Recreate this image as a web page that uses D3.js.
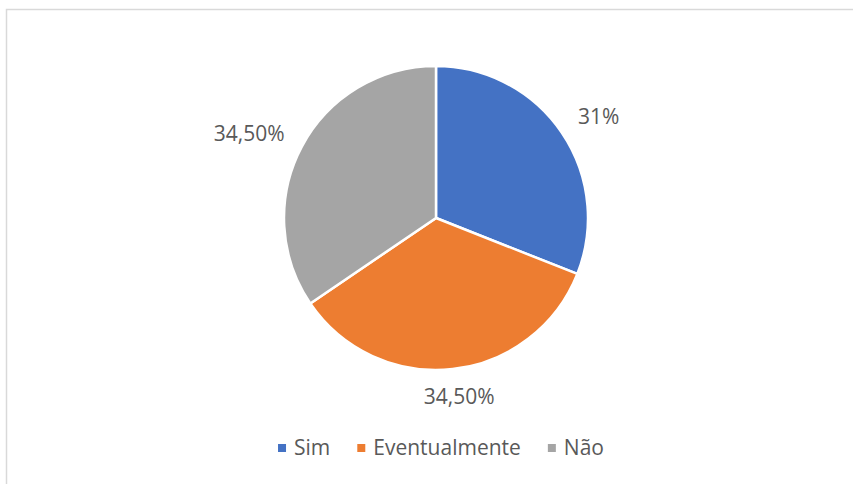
<!DOCTYPE html>
<html>
<head>
<meta charset="utf-8">
<script src="https://cdnjs.cloudflare.com/ajax/libs/d3/7.8.5/d3.min.js"></script>
<style>
  body { margin: 0; background: #fff; }
  text { font-family: "Open Sans", "Noto Sans", sans-serif; fill: #595959; }
</style>
</head>
<body>
<div id="chart"></div>
<script>
var categories = ["Sim", "Eventualmente", "Não"];
var values = [31, 34.5, 34.5];
var labels = ["31%", "34,50%", "34,50%"];
var colors = ["#4472C4", "#ED7D31", "#A5A5A5"];

var width = 853, height = 484;
var cx = 436, cy = 218, radius = 152;

var svg = d3.select("#chart").append("svg")
    .attr("width", width)
    .attr("height", height);

// chart frame
svg.append("rect")
    .attr("x", 6.5)
    .attr("y", 9.5)
    .attr("width", width + 10)
    .attr("height", height + 10)
    .style("fill", "none")
    .style("stroke", "#d9d9d9")
    .style("stroke-width", 1.5);

var color = d3.scaleOrdinal().domain(categories).range(colors);

var data = categories.map(function(c, i) {
    return {cat: c, value: values[i], label: labels[i]};
});

var pie = d3.pie()
    .sort(null)
    .value(function(d) { return d.value; });

var arc = d3.arc()
    .innerRadius(0)
    .outerRadius(radius);

var g = svg.append("g")
    .attr("transform", "translate(" + cx + "," + cy + ")");

var arcs = pie(data);

g.selectAll(".slice")
    .data(arcs)
    .enter().append("path")
    .attr("class", "slice")
    .attr("d", arc)
    .style("fill", function(d) { return color(d.data.cat); })
    .style("stroke", "#fff")
    .style("stroke-width", 2.5);

// outside-end labels
var labelR = radius + 18;
g.selectAll(".lbl")
    .data(arcs)
    .enter().append("text")
    .attr("class", "lbl")
    .style("font-size", "21px")
    .attr("text-anchor", "middle")
    .attr("dy", "0.35em")
    .text(function(d) { return d.data.label; })
    .each(function(d) {
        var a = (d.startAngle + d.endAngle) / 2;
        var w = this.getComputedTextLength();
        var s = Math.sin(a), c = Math.cos(a);
        d3.select(this)
            .attr("x", s * labelR + s * (w / 2 + 6))
            .attr("y", -c * labelR - c * 10);
    });

// legend
var legend = svg.append("g").attr("class", "legend");
var items = legend.selectAll(".item")
    .data(categories)
    .enter().append("g")
    .attr("class", "item");

items.append("rect")
    .attr("width", 8)
    .attr("height", 8)
    .attr("y", -4)
    .style("fill", function(d) { return color(d); });

items.append("text")
    .attr("x", 16)
    .attr("dy", "0.35em")
    .style("font-size", "21px")
    .text(function(d) { return d; });

var xpos = 0;
items.each(function() {
    var w = 16 + d3.select(this).select("text").node().getComputedTextLength();
    d3.select(this).attr("transform", "translate(" + xpos + ",0)");
    xpos += w + 27;
});
var total = xpos - 27;
legend.attr("transform", "translate(" + (441 - total / 2) + ",448)");
</script>
</body>
</html>
